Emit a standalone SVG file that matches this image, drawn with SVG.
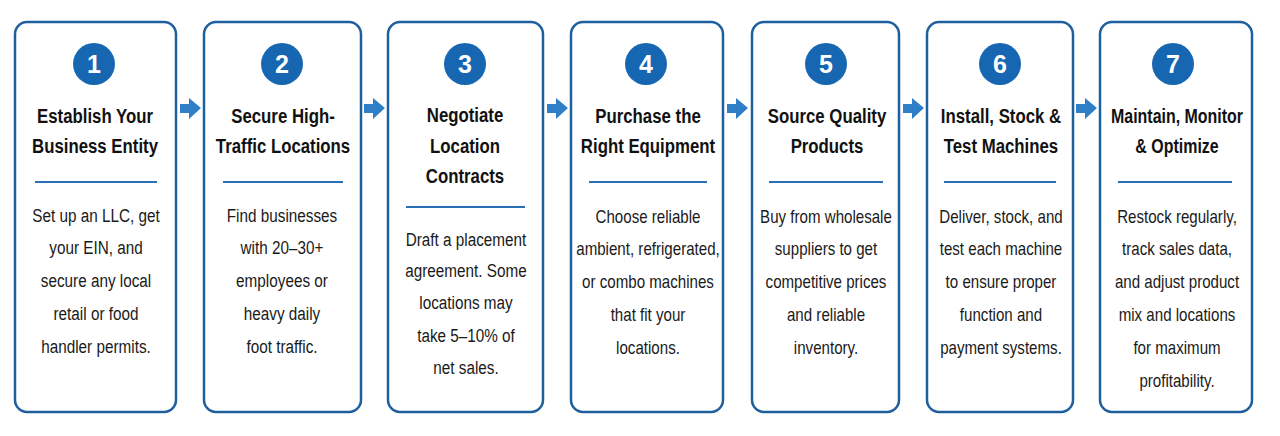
<svg xmlns="http://www.w3.org/2000/svg" width="1280" height="436" viewBox="0 0 1280 436">
<style>
.card{fill:#fff;stroke:#1f5f9e;stroke-width:2.5}
.num{fill:#1766b2}
.numt{font-family:"Liberation Sans",Arial,sans-serif;font-weight:bold;font-size:25px;fill:#fff;text-anchor:middle}
.title{font-family:"Liberation Sans",Arial,sans-serif;font-weight:bold;font-size:21px;fill:#111;text-anchor:middle}
.body{font-family:"Liberation Sans",Arial,sans-serif;font-size:19px;fill:#1a1a1a;text-anchor:middle}
.div{stroke:#2a6fb4;stroke-width:2}
.arr{fill:#2e7fc7}
</style>
<defs>
<path id="arrow" d="M0,104 L9,104 L9,98 L21,108 L9,119 L9,113 L0,113 Z"/>
</defs>
<rect width="1280" height="436" fill="#fff"/>
<g id="connectors">
<use href="#arrow" class="arr" x="180"/>
<use href="#arrow" class="arr" x="364"/>
<use href="#arrow" class="arr" x="547"/>
<use href="#arrow" class="arr" x="727"/>
<use href="#arrow" class="arr" x="903"/>
<use href="#arrow" class="arr" x="1076"/>
</g>
<g id="step1">
<rect class="card" x="15" y="22" width="161" height="390" rx="12"/>
<circle class="num" cx="94" cy="64" r="21"/>
<text class="numt" x="94" y="73">1</text>
<g transform="translate(95 0) scale(0.8 1)">
<text class="title" x="0" y="123">Establish Your</text>
<text class="title" x="0" y="153">Business Entity</text>
</g>
<line class="div" x1="35" y1="182" x2="157" y2="182"/>
<g transform="translate(96 0) scale(0.805 1)">
<text class="body" x="0" y="222">Set up an LLC, get</text>
<text class="body" x="0" y="254">your EIN, and</text>
<text class="body" x="0" y="287">secure any local</text>
<text class="body" x="0" y="320">retail or food</text>
<text class="body" x="0" y="353">handler permits.</text>
</g>
</g>
<g id="step2">
<rect class="card" x="204" y="22" width="157" height="390" rx="12"/>
<circle class="num" cx="282" cy="64" r="21"/>
<text class="numt" x="282" y="73">2</text>
<g transform="translate(283 0) scale(0.8 1)">
<text class="title" x="0" y="123">Secure High-</text>
<text class="title" x="0" y="153">Traffic Locations</text>
</g>
<line class="div" x1="223" y1="182" x2="343" y2="182"/>
<g transform="translate(282 0) scale(0.805 1)">
<text class="body" x="0" y="222">Find businesses</text>
<text class="body" x="0" y="254">with 20–30+</text>
<text class="body" x="0" y="287">employees or</text>
<text class="body" x="0" y="320">heavy daily</text>
<text class="body" x="0" y="353">foot traffic.</text>
</g>
</g>
<g id="step3">
<rect class="card" x="388" y="22" width="155" height="390" rx="12"/>
<circle class="num" cx="465" cy="64" r="21"/>
<text class="numt" x="465" y="73">3</text>
<g transform="translate(465 0) scale(0.8 1)">
<text class="title" x="0" y="122">Negotiate</text>
<text class="title" x="0" y="153">Location</text>
<text class="title" x="0" y="183">Contracts</text>
</g>
<line class="div" x1="406" y1="207" x2="525" y2="207"/>
<g transform="translate(466 0) scale(0.805 1)">
<text class="body" x="0" y="246">Draft a placement</text>
<text class="body" x="0" y="277">agreement. Some</text>
<text class="body" x="0" y="309">locations may</text>
<text class="body" x="0" y="342">take 5–10% of</text>
<text class="body" x="0" y="374">net sales.</text>
</g>
</g>
<g id="step4">
<rect class="card" x="571" y="22" width="152" height="390" rx="12"/>
<circle class="num" cx="646" cy="64" r="21"/>
<text class="numt" x="646" y="73">4</text>
<g transform="translate(648 0) scale(0.8 1)">
<text class="title" x="0" y="123">Purchase the</text>
<text class="title" x="0" y="153">Right Equipment</text>
</g>
<line class="div" x1="589" y1="182" x2="707" y2="182"/>
<g transform="translate(648 0) scale(0.795 1)">
<text class="body" x="0" y="223">Choose reliable</text>
<text class="body" x="0" y="255">ambient, refrigerated,</text>
<text class="body" x="0" y="288">or combo machines</text>
<text class="body" x="0" y="321">that fit your</text>
<text class="body" x="0" y="354">locations.</text>
</g>
</g>
<g id="step5">
<rect class="card" x="752" y="22" width="147" height="390" rx="12"/>
<circle class="num" cx="826" cy="64" r="21"/>
<text class="numt" x="826" y="73">5</text>
<g transform="translate(827 0) scale(0.8 1)">
<text class="title" x="0" y="123">Source Quality</text>
<text class="title" x="0" y="153">Products</text>
</g>
<line class="div" x1="769" y1="182" x2="883" y2="182"/>
<g transform="translate(826 0) scale(0.795 1)">
<text class="body" x="0" y="223">Buy from wholesale</text>
<text class="body" x="0" y="255">suppliers to get</text>
<text class="body" x="0" y="288">competitive prices</text>
<text class="body" x="0" y="321">and reliable</text>
<text class="body" x="0" y="354">inventory.</text>
</g>
</g>
<g id="step6">
<rect class="card" x="927" y="22" width="146" height="390" rx="12"/>
<circle class="num" cx="1000" cy="64" r="21"/>
<text class="numt" x="1000" y="73">6</text>
<g transform="translate(1001 0) scale(0.8 1)">
<text class="title" x="0" y="123">Install, Stock &amp;</text>
<text class="title" x="0" y="153">Test Machines</text>
</g>
<line class="div" x1="944" y1="182" x2="1056" y2="182"/>
<g transform="translate(1001 0) scale(0.795 1)">
<text class="body" x="0" y="223">Deliver, stock, and</text>
<text class="body" x="0" y="255">test each machine</text>
<text class="body" x="0" y="288">to ensure proper</text>
<text class="body" x="0" y="321">function and</text>
<text class="body" x="0" y="354">payment systems.</text>
</g>
</g>
<g id="step7">
<rect class="card" x="1100" y="22" width="152" height="390" rx="12"/>
<circle class="num" cx="1173" cy="64" r="21"/>
<text class="numt" x="1173" y="73">7</text>
<g transform="translate(1177 0) scale(0.76 1)">
<text class="title" x="0" y="123">Maintain, Monitor</text>
<text class="title" x="0" y="153">&amp; Optimize</text>
</g>
<line class="div" x1="1118" y1="182" x2="1232" y2="182"/>
<g transform="translate(1177 0) scale(0.795 1)">
<text class="body" x="0" y="223">Restock regularly,</text>
<text class="body" x="0" y="255">track sales data,</text>
<text class="body" x="0" y="288">and adjust product</text>
<text class="body" x="0" y="321">mix and locations</text>
<text class="body" x="0" y="354">for maximum</text>
<text class="body" x="0" y="387">profitability.</text>
</g>
</g>
</svg>
